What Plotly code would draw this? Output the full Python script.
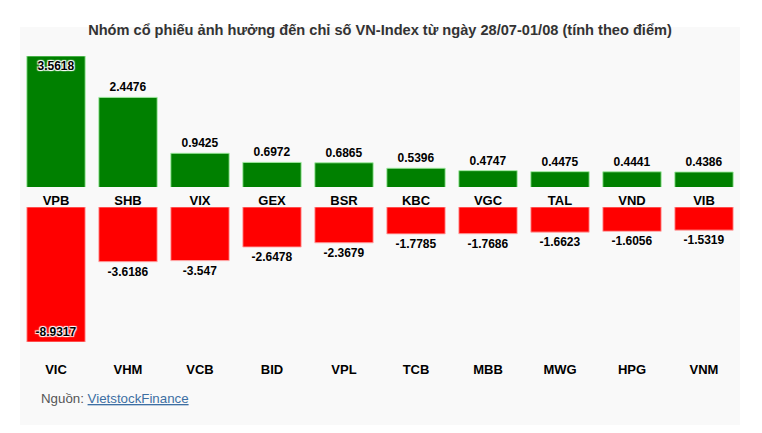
import plotly.graph_objects as go

top_cats = ["VPB", "SHB", "VIX", "GEX", "BSR", "KBC", "VGC", "TAL", "VND", "VIB"]
top_vals = [3.5618, 2.4476, 0.9425, 0.6972, 0.6865, 0.5396, 0.4747, 0.4475, 0.4441, 0.4386]
bot_cats = ["VIC", "VHM", "VCB", "BID", "VPL", "TCB", "MBB", "MWG", "HPG", "VNM"]
bot_vals = [-8.9317, -3.6186, -3.547, -2.6478, -2.3679, -1.7785, -1.7686, -1.6623, -1.6056, -1.5319]

title_text = "Nhóm cổ phiếu ảnh hưởng đến chỉ số VN-Index từ ngày 28/07-01/08 (tính theo điểm)"
source_label = "Nguồn: "
source_link = "VietstockFinance"

# the page body adds an 8px margin; lay the figure out in page coordinates minus that
OFF = 8
W, H = 762 - OFF, 433 - OFF
FONT = "Liberation Sans, Arial, sans-serif"


def py(px):
    return 1 - (px - OFF) / H


PLOT_L, PLOT_R = 20 - OFF, 740 - OFF
PLOT_W = PLOT_R - PLOT_L

top_pos = ["inside" if v == max(top_vals) else "outside" for v in top_vals]
bot_pos = ["inside" if v == min(bot_vals) else "outside" for v in bot_vals]

halo = "1px 1px 1px #fff, -1px -1px 1px #fff, 1px -1px 1px #fff, -1px 1px 1px #fff"

fig = go.Figure()
fig.add_trace(go.Bar(
    x=top_cats, y=top_vals, xaxis="x", yaxis="y",
    marker=dict(color="#008000", line=dict(color="rgba(160,235,160,0.9)", width=1)),
    text=[str(v) for v in top_vals], textposition=top_pos,
    insidetextanchor="end", constraintext="none", cliponaxis=False,
    textfont=dict(family=FONT, size=12, color="#000", weight="bold"),
    insidetextfont=dict(family=FONT, size=12, color="#000", weight="bold", shadow=halo),
    hoverinfo="x+y", showlegend=False,
))
fig.add_trace(go.Bar(
    x=bot_cats, y=bot_vals, xaxis="x2", yaxis="y2",
    marker=dict(color="#ff0000", line=dict(color="rgba(255,170,170,0.9)", width=1)),
    text=[str(v) for v in bot_vals], textposition=bot_pos,
    insidetextanchor="end", constraintext="none", cliponaxis=False,
    textfont=dict(family=FONT, size=12, color="#000", weight="bold"),
    insidetextfont=dict(family=FONT, size=12, color="#000", weight="bold", shadow=halo),
    hoverinfo="x+y", showlegend=False,
))

axis_common = dict(showgrid=False, zeroline=False, showline=False, ticks="",
                   tickfont=dict(family=FONT, size=13, color="#000", weight="bold"),
                   fixedrange=True)

fig.update_layout(
    width=W, height=H,
    margin=dict(l=PLOT_L, r=W - PLOT_R, t=0, b=0, pad=0),
    paper_bgcolor="#ffffff",
    plot_bgcolor="rgba(0,0,0,0)",
    bargap=0.19,
    font=dict(family=FONT),
    title=dict(text=f"<b>{title_text}</b>", x=(380 - OFF - PLOT_L) / PLOT_W, xanchor="center",
               xref="paper", y=py(30), yanchor="middle",
               font=dict(family=FONT, size=14.6, color="#333333")),
    xaxis=dict(domain=[0, 1], anchor="y", ticklabelstandoff=4, **axis_common),
    yaxis=dict(domain=[py(187), py(56)], range=[0.035, 3.5618], visible=False, fixedrange=True),
    xaxis2=dict(domain=[0, 1], anchor="y2", ticklabelstandoff=18, **axis_common),
    yaxis2=dict(domain=[py(342), py(207)], range=[-8.9317, 0], visible=False, fixedrange=True),
    shapes=[dict(type="rect", xref="paper", yref="paper", x0=0, x1=1,
                 y0=py(425), y1=py(27), fillcolor="#f9f9f9", line=dict(width=0),
                 layer="below")],
    annotations=[dict(
        xref="paper", yref="paper", x=(39 - 20) / PLOT_W, y=py(398),
        xanchor="left", yanchor="middle", showarrow=False,
        text=(f"<span style='color:#555555'>{source_label}</span>"
              f"<a href='https://finance.vietstock.vn/' style='color:#3d6fa3'><u>{source_link}</u></a>"),
        font=dict(family=FONT, size=13.3, color="#3d6fa3"),
    )],
)

fig.write_html("out.html")
